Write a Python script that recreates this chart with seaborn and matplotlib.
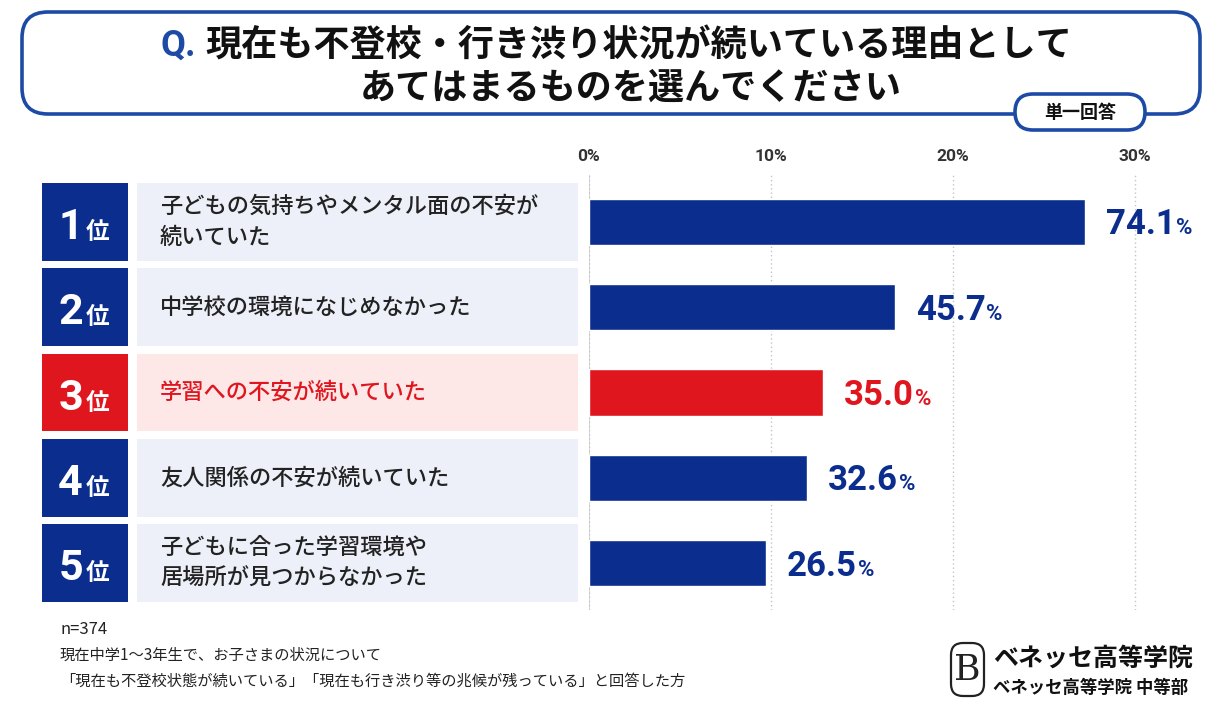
import matplotlib
matplotlib.use("Agg")
import matplotlib.pyplot as plt
import seaborn as sns
import pandas as pd
from matplotlib.patches import FancyBboxPatch, Rectangle

# data
ranks = ["1", "2", "3", "4", "5"]
reasons = [
    "子どもの気持ちやメンタル面の不安が\n続いていた",
    "中学校の環境になじめなかった",
    "学習への不安が続いていた",
    "友人関係の不安が続いていた",
    "子どもに合った学習環境や\n居場所が見つからなかった",
]
values = [74.1, 45.7, 35.0, 32.6, 26.5]
highlight_rank = "3"
tick_labels = ["0%", "10%", "20%", "30%"]
tick_values = [0, 10, 20, 30]
# the original's axis labels don't match the bar lengths; its grid step is ~2.72x
axis_scale = 2.72

title_q = "Q."
title_line1 = "現在も不登校・行き渋り状況が続いている理由として"
title_line2 = "あてはまるものを選んでください"
answer_type = "単一回答"
notes = ["n=374",
         "現在中学1～3年生で、お子さまの状況について",
         "「現在も不登校状態が続いている」「現在も行き渋り等の兆候が残っている」と回答した方"]
brand = "ベネッセ高等学院"
brand_sub = "ベネッセ高等学院 中等部"

NAVY = "#0b2d8e"
RED = "#e0161f"
EDGE = "#1d4aa5"

sns.set_theme(style="white")
plt.rcParams["font.family"] = ["Noto Sans CJK JP", "DejaVu Sans"]
NUM_FONT = ["Roboto", "DejaVu Sans"]

W, H = 1223, 709
fig = plt.figure(figsize=(W / 100, H / 100), dpi=100)
fig.patch.set_facecolor("white")

# background overlay in pixel coordinates
bg = fig.add_axes([0, 0, 1, 1], zorder=0)
bg.set_xlim(0, W)
bg.set_ylim(H, 0)
bg.axis("off")

bg.add_patch(FancyBboxPatch((22, 12), 1178, 102, boxstyle="round,pad=0,rounding_size=26",
                            facecolor="white", edgecolor=EDGE, lw=2.6, zorder=1))
bg.text(160, 46, title_q, color=EDGE, fontsize=26, fontweight="bold",
        family=NUM_FONT, va="center", ha="left", zorder=3)
bg.text(205, 46, title_line1, color="#111111", fontsize=26, fontweight="bold",
        va="center", ha="left", zorder=3)
bg.text(631, 88, title_line2, color="#111111", fontsize=26, fontweight="bold",
        va="center", ha="center", zorder=3)
bg.add_patch(FancyBboxPatch((1015, 94), 130, 36, boxstyle="round,pad=0,rounding_size=18",
                            facecolor="white", edgecolor=EDGE, lw=2.6, zorder=2))
bg.text(1080, 112, answer_type, fontsize=13, fontweight="bold", color="#111111",
        ha="center", va="center", zorder=3)

for i, note in enumerate(notes):
    bg.text(60, 630 + i * 25.5, note, fontsize=12 if i == 0 else 11, color="#222222",
            ha="left", va="center")

# logo
bg.add_patch(FancyBboxPatch((951, 643), 33, 53, boxstyle="round,pad=0,rounding_size=12",
                            facecolor="white", edgecolor="#222222", lw=1.6))
bg.text(967.5, 670, "B", fontsize=26, family="DejaVu Serif", color="#222222",
        ha="center", va="center")
bg.text(993, 659, brand, fontsize=18, fontweight="bold", color="#111111", ha="left", va="center")
bg.text(993, 688, brand_sub, fontsize=12.5, fontweight="bold", color="#111111",
        ha="left", va="center")

# plotting area geometry
top_px, bot_px = 175, 610
ax_bottom = 1 - bot_px / H
ax_height = (bot_px - top_px) / H
ylim = (4.55, -0.55)

# left side: rank boxes and reason labels (x in pixels, y in row units)
lab = fig.add_axes([0, ax_bottom, 1, ax_height], zorder=1)
lab.set_xlim(0, W)
lab.set_ylim(*ylim)
lab.axis("off")
for i, (rk, reason) in enumerate(zip(ranks, reasons)):
    hot = rk == highlight_rank
    box_c = RED if hot else NAVY
    lab.add_patch(Rectangle((42, i - 0.457), 86, 0.914, facecolor=box_c, edgecolor="none"))
    lab.add_patch(Rectangle((137, i - 0.457), 441, 0.914,
                            facecolor="#fde7e7" if hot else "#edf0f8", edgecolor="none"))
    lab.text(83, i + 0.2, rk, fontsize=31, fontweight="bold", family=NUM_FONT,
             color="white", ha="right", va="baseline")
    lab.text(86, i + 0.2, "位", fontsize=17, fontweight="bold", color="white",
             ha="left", va="baseline")
    lab.text(160, i, reason, fontsize=16, fontweight="medium", linespacing=1.45,
             color=RED if hot else "#222222", ha="left", va="center")

# bars
df = pd.DataFrame({"rank": ranks, "reason": reasons, "value": values})
palette = {r: (RED if r == highlight_rank else NAVY) for r in ranks}
ax = fig.add_axes([589 / W, ax_bottom, (1200 - 589) / W, ax_height], zorder=2)
ax.patch.set_alpha(0)
sns.barplot(data=df, x="value", y="rank", hue="rank", palette=palette, legend=False,
            width=0.54, saturation=1, ax=ax)
px_per_unit = 182 / (10 * axis_scale)
ax.set_xlim(0, (1200 - 589) / px_per_unit)
ax.set_ylim(*ylim)
ax.set_xticks([t * axis_scale for t in tick_values])
ax.set_xticklabels(tick_labels, fontsize=12.5, fontweight="bold", color="#333333",
                   family=NUM_FONT)
ax.xaxis.tick_top()
ax.tick_params(axis="x", length=0, pad=8)
ax.tick_params(axis="y", left=False, labelleft=False)
ax.set_xlabel("")
ax.set_ylabel("")
for s in ax.spines.values():
    s.set_visible(False)
ax.grid(axis="x", ls=(0, (1, 2)), color="#c4c4c4", lw=1)
ax.axvline(0, color="#d4d4d4", lw=1.3, zorder=0)
ax.set_axisbelow(True)

renderer = fig.canvas.get_renderer()
for i, (rk, v) in enumerate(zip(ranks, values)):
    c = RED if rk == highlight_rank else NAVY
    t = ax.annotate(f"{v:.1f}", xy=(v, i), xytext=(15, -9), textcoords="offset points",
                    fontsize=25, fontweight="bold", family=NUM_FONT, color=c,
                    ha="left", va="baseline")
    w_pt = t.get_window_extent(renderer).width * 72 / fig.dpi
    ax.annotate("%", xy=(v, i), xytext=(15 + w_pt + 0.5, -9), textcoords="offset points",
                fontsize=16, fontweight="bold", family=NUM_FONT, color=c,
                ha="left", va="baseline")

fig.savefig("out.png", dpi=100)
